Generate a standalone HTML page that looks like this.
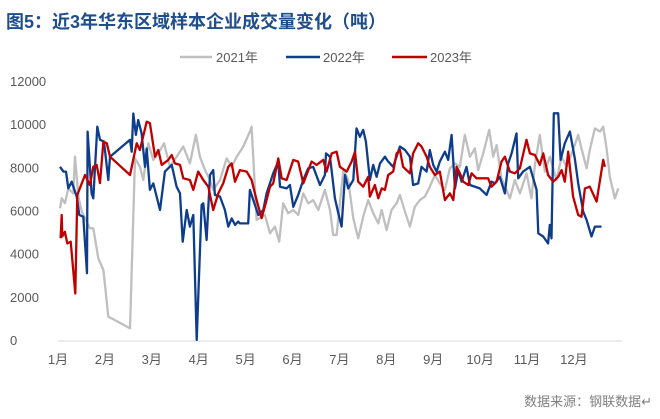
<!DOCTYPE html>
<html><head><meta charset="utf-8"><style>
body{margin:0;background:#fff;width:660px;height:414px;overflow:hidden;font-family:"Liberation Sans","Noto Sans CJK SC",sans-serif}
svg text{font-family:"Liberation Sans","Noto Sans CJK SC",sans-serif}
</style></head><body>
<svg id="chart" width="660" height="414" xmlns="http://www.w3.org/2000/svg">
<text x="6" y="28" font-size="18" font-weight="bold" fill="#1f4e8c">图5：近3年华东区域样本企业成交量变化（吨）</text>
<g>
<g><line x1="180" y1="57" x2="212" y2="57" stroke="#bfbfbf" stroke-width="2.5"/><text x="216" y="62" font-size="13" fill="#595959">2021年</text></g>
<g><line x1="286" y1="57" x2="320" y2="57" stroke="#0e3d8c" stroke-width="2.5"/><text x="323" y="62" font-size="13" fill="#595959">2022年</text></g>
<g><line x1="392" y1="57" x2="427" y2="57" stroke="#c00000" stroke-width="2.5"/><text x="430" y="62" font-size="13" fill="#595959">2023年</text></g>
</g>
<g id="axes"></g>
<g id="series"></g>
<text x="652" y="406" font-size="13" fill="#7f7f7f" text-anchor="end">数据来源：钢联数据↵</text>
</svg>
<script>
const yTicks=[0,2000,4000,6000,8000,10000,12000];
const monthLabels=["1月","2月","3月","4月","5月","6月","7月","8月","9月","10月","11月","12月"];
const days2021=[1.3,2.4,4.5,6.7,9.9,11,13.2,15.4,20.7,22.9,26.1,29.4,32.6,46.7,49.9,53.1,55.3,58.5,61.8,65,68.7,72.6,76.9,81.2,85.5,89.4,92,95.3,98.5,100.6,105,109.3,112.6,115.8,120.1,124.4,125.5,128.7,134.1,137.4,140.6,143.4,146,149.2,152.5,155.7,159,162.2,165.4,168.7,173,176.3,178.4,180.6,184.9,188.1,191.4,194.6,197.8,201.1,204.3,207.6,209.8,213,216.2,219.5,221.6,224.9,228.1,231.3,234.6,237.8,241,244.3,247.5,250.8,254,257.3,260.5,263.7,267,270.2,272.4,275.6,279.5,282.1,284.3,287.5,290.7,292.9,296.1,299.4,303.7,306.9,309.1,312.3,315.6,318.8,323.1,326.4,329.6,333.9,337.2,339.3,342.6,344.7,348,351.3,353.4,355.6,357.7,361,363.2];
const vals2021=[6150,6610,6380,7070,6840,8540,6690,5990,5220,5220,3830,3290,1130,590,8460,8070,7460,9160,8390,8690,9160,8070,8540,9010,8230,9550,8540,7920,7460,7000,7460,8460,8070,8540,9010,9700,9930,5610,5840,4990,5300,4600,6380,5920,6070,5840,6840,6380,6530,6070,7000,6070,4910,4910,7920,7460,5680,4760,5760,6530,5920,5450,6070,5140,6070,6380,6770,5990,5300,6220,6530,6690,7150,7690,7300,7000,8000,8230,8070,9550,8540,8920,7920,8690,9780,8540,9080,7540,7000,6610,7460,6840,7770,6610,8160,9550,7850,8540,7460,8540,8070,8850,9550,8920,8000,8850,9850,9700,9930,8920,7610,6610,7070];
const days2022=[1.3,3.5,5.2,6.7,8.9,12.1,13.8,16.4,18.8,19.2,21.8,22.9,25.5,27.2,29.8,32.6,33.7,46.7,47.8,48.8,50.5,52,54.2,56.4,57.5,59.6,61.8,66.1,69.3,73.7,76.9,79.1,80.8,83.4,85.5,87.7,89.9,93.1,94.2,96.3,98.5,100.6,101.7,105,108.2,110.4,112.6,114.7,116.8,117.9,123.3,124.4,126.6,129.8,133.1,135.2,139.5,142.8,143.9,148.2,150.3,152.5,155.7,159,162.2,165.4,169.8,173,173.7,176.3,179.5,181.7,183.8,186,188.1,191.4,193.5,195.7,197.8,199.6,202.2,204.3,206.5,208.7,211.9,214,217.3,221.6,224.9,228.1,230.2,233.5,235.6,238.9,241,243.2,245.4,247.5,250.8,252.9,255.1,257.3,259.4,261.6,264.8,267,273.4,277.8,281,283.2,286.4,289.7,291.8,294,297.2,298.3,301.5,305.9,310.2,311.3,314.5,317.7,318.8,319.9,321.4,324.2,325.8,328.5,331.8,335,337.2,340.4,342.6,345.8,348,352.3];
const vals2022=[8070,7850,7850,7070,7380,6690,5840,5760,3140,9700,6840,6610,9930,9320,9240,7460,8540,9320,8770,10540,9550,10240,9620,8070,8920,7000,7300,6070,7850,8160,7150,6840,4600,6070,5300,5840,50,6300,6380,4680,7690,7920,6770,6690,6070,5300,5680,5380,5530,5450,5450,7000,6530,5840,6070,6840,7770,8310,7150,7070,7230,6220,6770,7460,8000,8070,7230,7690,8690,8540,6610,5920,5300,7690,7070,7460,9850,9460,9780,9240,7460,8160,7610,8230,8540,8310,8070,9010,8850,8540,7230,7300,8070,7850,8850,8160,7850,8310,8770,8390,9550,7070,7920,7380,8070,7230,7070,6770,7380,7300,7610,6840,8230,8690,9620,7540,7850,8070,7000,4990,4840,4520,5380,4760,10550,10550,8390,9160,9700,8460,7300,5990,5610,4840,5300,5300];
const days2023=[1.7,2.4,2.8,4.5,6,8.2,11.2,12.5,17.5,20.7,22.9,25.1,27.2,29.4,31.6,33.7,46.7,51,53.1,57.5,59.6,62.9,65,67.2,71.5,73.7,75.8,79.1,81.2,85.5,87.7,90.9,94.2,97.4,100.6,103.9,107.1,110.4,112.6,114.7,117.9,122.3,125.5,128.7,132,135.2,137.4,139.5,142.8,145,148.2,152.5,155.7,159,164.4,167.6,171.9,174.1,177.4,180.6,182.7,187.1,190.3,192.5,194.6,197.8,201.1,202.2,205.4,207.6,209.8,211.9,214,217.3,219.5,221.6,223.7,228.1,230.2,233.5,235.6,238.9,241,244.3,247.5,250.8,254,256.2,258.4,260.5,262.7,265.9,268.1,271.3,278.8,281,284.3,287.5,289.7,292.9,296.1,299.4,303.7,305.9,309.1,312.3,314.5,317.7,321,324.2,326.4,328.5,330.7,333.9,337.2,339.3,341.5,344.7,349.1,353.4,354.5];
const vals2023=[4760,5840,4840,5060,4520,4600,2200,6770,7690,7230,8070,8160,7320,9240,9160,8540,7690,9160,8850,10160,10090,8540,8850,8160,8390,8620,8230,8160,7540,7460,7000,7850,7460,7150,6070,6840,7300,8070,8230,7380,7920,7850,7460,6530,5690,6530,7150,7300,8460,7540,7460,8390,8310,7300,8310,8160,8390,7850,8690,8770,8070,7850,8310,8770,7380,7150,7610,6690,7230,6610,7070,7000,7690,7850,8690,8850,8070,7770,8690,9160,9010,8540,8070,7690,7850,6530,6840,6530,8070,7770,7380,7230,7770,7540,7540,7150,7380,8310,8540,7850,7770,8000,9320,8690,8620,8160,8690,7690,7380,7610,7920,7380,8770,6690,5840,5760,7070,7150,6460,8390,8070];

const NS="http://www.w3.org/2000/svg";
const X0=58,Y0=341,YTOP=82;
function xScale(d){return X0+d*(46.9/30.4);}
function yScale(v){return Y0-(v/12000)*(Y0-YTOP);}
const axes=document.getElementById('axes');
const series=document.getElementById('series');
function mk(tag,attrs,parent){const e=document.createElementNS(NS,tag);for(const k in attrs)e.setAttribute(k,attrs[k]);parent.appendChild(e);return e;}
yTicks.forEach(v=>{
  const t=mk('text',{x:10,y:yScale(v)+4,'font-size':13,fill:'#595959'},axes);
  
  
  t.textContent=v;
});
const ax=mk('line',{x1:X0,y1:Y0,x2:622,y2:Y0,stroke:'#d9d9d9','stroke-width':1},axes);


monthLabels.forEach((m,i)=>{
  const t=mk('text',{x:xScale(i*30.4),y:364,'font-size':13,fill:'#595959','text-anchor':'middle'},axes);
  
  
  t.textContent=m;
});
function draw(days,vals,color,name){
  const pts=days.map((d,i)=>xScale(d).toFixed(1)+','+yScale(vals[i]).toFixed(1)).join(' ');
  const p=mk('polyline',{points:pts,fill:'none',stroke:color,'stroke-width':2.3,'stroke-linejoin':'round'},series);
  
  
}
draw(days2021,vals2021,'#bfbfbf','series-2021-line');
draw(days2022,vals2022,'#0e3d8c','series-2022-line');
draw(days2023,vals2023,'#c00000','series-2023-line');
</script>
</body></html>
